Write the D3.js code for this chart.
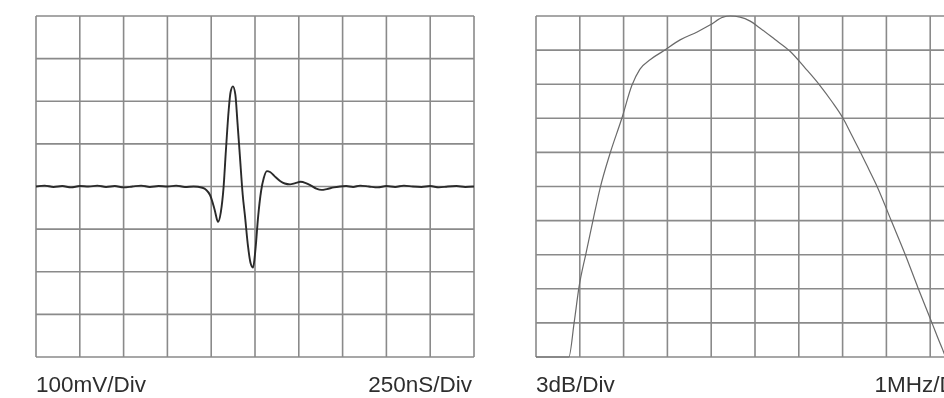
<!DOCTYPE html>
<html>
<head>
<meta charset="utf-8">
<script src="https://cdn.jsdelivr.net/npm/d3@7"></script>
<style>
  body { margin: 0; background: #fff; }
  text { font-family: "Liberation Sans", Arial, sans-serif; }
</style>
</head>
<body>
<div id="chart"></div>
<script>
var width = 944;
var height = 398;

// left scope trace: time (ns) vs voltage (mV)
var pulseNs = [0, 50, 100, 150, 200, 250, 300, 350, 400, 450, 500, 550, 600, 650, 700, 750, 800, 850, 900, 950,
  993, 1020, 1039, 1055, 1070, 1084, 1100, 1110, 1124, 1138, 1150, 1164, 1180, 1193, 1210, 1225, 1239, 1252,
  1268, 1285, 1300, 1318, 1336, 1360, 1393, 1420, 1450, 1480, 1510, 1540, 1570, 1600, 1630, 1660, 1700, 1735,
  1770, 1810, 1850, 1900, 1950, 2000, 2050, 2100, 2150, 2200, 2250, 2300, 2350, 2400, 2450, 2500];
var pulseMv = [0, 2, -1, 1, -2, 1, 0, 2, -1, 1, -2, 0, 2, -1, 1, 0, 2, -1, 0, -3,
  -20, -55, -83, -60, -5, 85, 180, 220, 235, 215, 150, 70, -20, -70, -140, -180, -190, -150,
  -70, -10, 20, 36, 34, 25, 13, 7, 5, 8, 11, 8, 2, -5, -8, -6, -2, 0,
  1, -1, 2, 0, -2, 1, -1, 2, 0, -1, 1, -2, 0, 1, -1, 0];

// right spectrum: frequency (MHz) vs level (dB)
var specMHz = [0, 0.75, 0.87, 0.98, 1.14, 1.30, 1.46, 1.69, 1.96, 2.19, 2.37, 2.62, 2.90, 3.29, 3.68, 3.97,
  4.27, 4.43, 4.66, 4.89, 5.11, 5.45, 5.80, 6.15, 6.48, 6.75, 7.01, 7.21, 7.41, 7.60, 7.80, 8.11, 8.42, 8.72, 9.04, 9.27, 9.37, 10];
var specDb = [-30, -30, -27.0, -23.9, -20.9, -18.0, -15.2, -12.1, -9.0, -6.1, -4.7, -3.8, -3.1, -2.1, -1.4, -0.8,
  -0.1, 0, -0.1, -0.45, -1.05, -2.05, -3.1, -4.6, -6.1, -7.5, -9.0, -10.5, -12.0, -13.5, -15.1, -18.0, -20.9, -23.9, -27.0, -29.2, -30, -30];

var leftLabels = ["100mV/Div", "250nS/Div"];
var rightLabels = ["3dB/Div", "1MHz/Div"];

var gridColor = "#8a8a8a";

var svg = d3.select("#chart").append("svg")
  .attr("width", width)
  .attr("height", height);

var defs = svg.append("defs");
defs.append("filter").attr("id", "soft")
  .append("feGaussianBlur").attr("stdDeviation", 0.55);

var root = svg.append("g").attr("filter", "url(#soft)");

var gridTop = 16, gridBottom = 357;

// left panel scales
var x1 = d3.scaleLinear().domain([0, 2500]).range([36, 474]);
var y1 = d3.scaleLinear().domain([-400, 400]).range([gridBottom, gridTop]);
// right panel scales
var x2 = d3.scaleLinear().domain([0, 10]).range([536, 974]);
var y2 = d3.scaleLinear().domain([-30, 0]).range([gridBottom, gridTop]);

function drawGrid(g, xs, ys, xStep, yStep) {
  var xt = d3.range(xs.domain()[0], xs.domain()[1] + xStep / 2, xStep);
  var yt = d3.range(ys.domain()[0], ys.domain()[1] + yStep / 2, yStep);
  g.selectAll(".vline")
    .data(xt)
    .enter().append("line")
      .attr("class", "vline")
      .attr("x1", function(d) { return xs(d); })
      .attr("x2", function(d) { return xs(d); })
      .attr("y1", ys.range()[1])
      .attr("y2", ys.range()[0])
      .attr("stroke", gridColor)
      .attr("stroke-width", 1.6);
  g.selectAll(".hline")
    .data(yt)
    .enter().append("line")
      .attr("class", "hline")
      .attr("y1", function(d) { return ys(d); })
      .attr("y2", function(d) { return ys(d); })
      .attr("x1", xs.range()[0])
      .attr("x2", xs.range()[1])
      .attr("stroke", gridColor)
      .attr("stroke-width", 1.6);
}

var left = root.append("g");
var right = root.append("g");

drawGrid(left, x1, y1, 250, 100);
drawGrid(right, x2, y2, 1, 3);

var pulse = d3.zip(pulseNs, pulseMv);
var spec = d3.zip(specMHz, specDb);

left.append("path")
  .datum(pulse)
  .attr("fill", "none")
  .attr("stroke", "#2a2a2a")
  .attr("stroke-width", 1.9)
  .attr("stroke-linejoin", "round")
  .attr("d", d3.line()
    .x(function(d) { return x1(d[0]); })
    .y(function(d) { return y1(d[1]); })
    .curve(d3.curveMonotoneX));

right.append("path")
  .datum(spec)
  .attr("fill", "none")
  .attr("stroke", "#6a6a6a")
  .attr("stroke-width", 1.2)
  .attr("d", d3.line()
    .x(function(d) { return x2(d[0]); })
    .y(function(d) { return y2(d[1]); })
    .curve(d3.curveMonotoneX));

// labels under each panel
function addLabels(g, xs, labels) {
  g.append("text")
    .attr("x", xs.range()[0])
    .attr("y", 392)
    .attr("font-size", 22.5)
    .attr("fill", "#2e2e2e")
    .text(labels[0]);
  g.append("text")
    .attr("x", xs.range()[1] - 2)
    .attr("y", 392)
    .attr("text-anchor", "end")
    .attr("font-size", 22.5)
    .attr("fill", "#2e2e2e")
    .text(labels[1]);
}
addLabels(left, x1, leftLabels);
addLabels(right, x2, rightLabels);
</script>
</body>
</html>
